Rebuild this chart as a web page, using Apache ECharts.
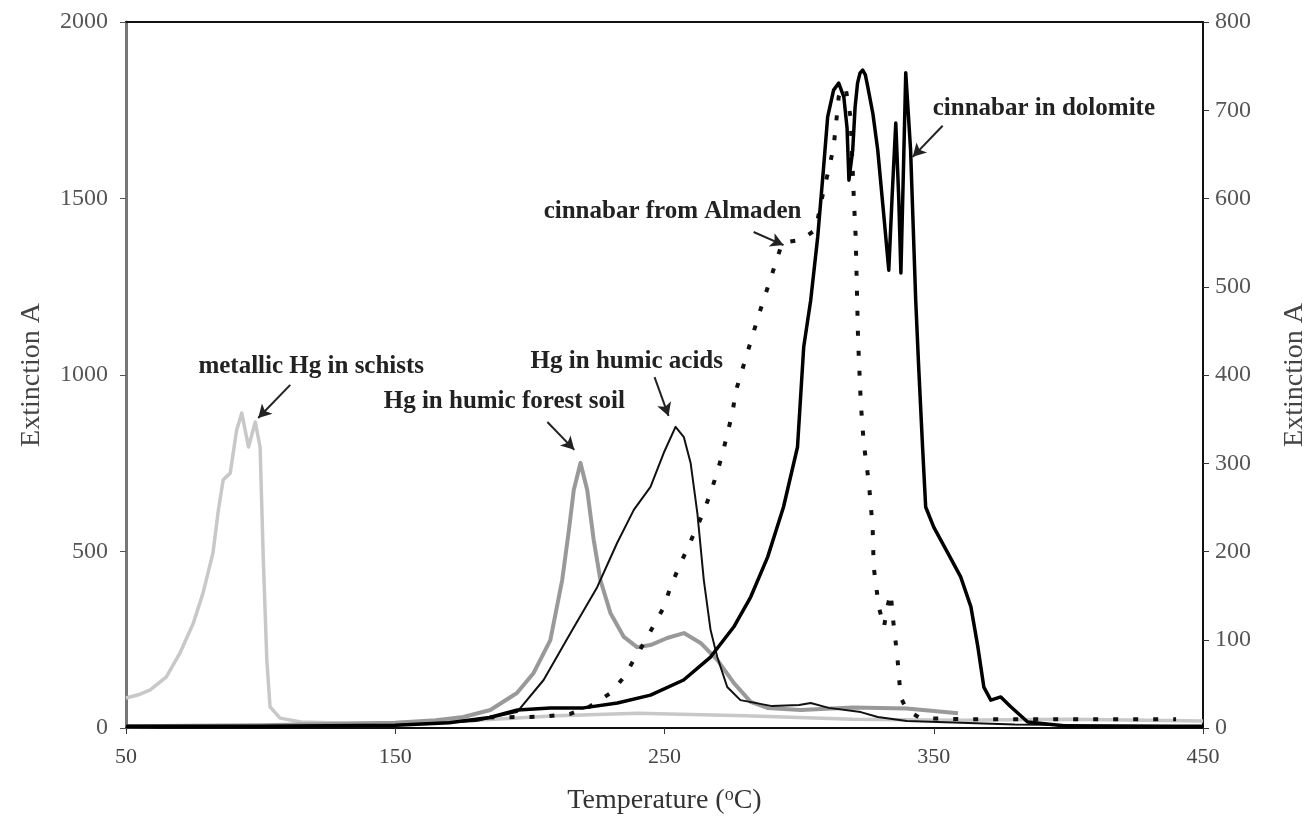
<!DOCTYPE html>
<html>
<head>
<meta charset="utf-8">
<script src="https://cdn.jsdelivr.net/npm/echarts@6/dist/echarts.min.js"></script>
<style>
html,body{margin:0;padding:0;background:#fff;}
#chart{width:1311px;height:816px;}
</style>
</head>
<body>
<div id="chart"></div>
<script>
// ---- data (temperature in °C, extinction A on left-axis scale) ----
var metallicT = [50, 55, 59, 65, 70, 75, 78.6, 82.3, 84.3, 86.1, 88.7, 91.1, 93.0, 95.5, 98.0, 99.8, 101.0, 102.3, 103.5, 107.2, 115, 130, 150, 180, 210, 240, 280, 320, 360, 400, 450];
var metallicV = [85, 95, 108, 145, 212, 297, 382, 496, 617, 703, 722, 844, 892, 796, 867, 796, 476, 193, 60, 28, 17, 14, 15, 22, 35, 42, 35, 25, 22, 25, 20];

var forestT = [50, 100, 150, 165, 175.3, 185.3, 195.2, 201.4, 207.6, 212, 214.5, 216.3, 218.8, 221.3, 223.7, 226.2, 229.9, 234.9, 239.8, 244.8, 251, 257.2, 263.4, 269.6, 275.8, 282, 288.2, 300.6, 320, 340, 359];
var forestV = [5, 8, 15, 22, 31, 51, 99, 156, 249, 419, 561, 674, 751, 674, 533, 419, 326, 258, 229, 235, 255, 269, 241, 193, 127, 74, 57, 51, 58, 55, 42];

var acidsT = [50, 100, 150, 180, 195.2, 205.1, 215.1, 225, 232.4, 238.6, 244.8, 249.7, 254.1, 257.2, 259.7, 262.2, 264.6, 267.1, 269.6, 273.3, 278.2, 290, 300, 304.3, 311, 322.9, 329.2, 340, 380, 450];
var acidsV = [5, 5, 8, 20, 45, 136, 269, 399, 524, 618, 683, 779, 853, 824, 751, 609, 419, 278, 201, 116, 79, 62, 65, 71, 57, 45, 31, 20, 10, 5];

var almadenT = [185, 195, 205, 215, 222, 230, 234.9, 238.6, 242.4, 246.1, 249.8, 252.2, 255.2, 258.6, 264.5, 267.1, 269.6, 271.9, 275.3, 276.4, 285, 293.7, 300.6, 306.1, 309.1, 311, 312.8, 313.6, 314.7, 316.2, 317.4, 319.1, 320.3, 321.0, 321.9, 322.9, 324, 325.9, 327.3, 327.7, 329.6, 331.5, 333, 334, 335, 336.5, 337.7, 340, 345, 360, 400, 440];
var almadenV = [30, 31, 32, 40, 60, 99, 144, 193, 241, 292, 343, 399, 453, 510, 612, 666, 725, 788, 895, 952, 1170, 1374, 1383, 1411, 1524, 1581, 1646, 1703, 1788, 1816, 1807, 1731, 1504, 1391, 1099, 921, 807, 694, 569, 456, 343, 286, 350, 382, 300, 200, 88, 50, 28, 25, 25, 25];

var dolomiteT = [50, 100, 150, 170, 185, 195.4, 207.6, 219.9, 232.5, 244.8, 257.1, 267.1, 275.7, 282, 288.3, 294.2, 299.4, 301.7, 304.3, 306.9, 309, 310.6, 312.8, 314.7, 316.6, 317.8, 318.5, 319.9, 320.8, 321.7, 322.6, 323.6, 324.6, 325.5, 327.4, 329.2, 331.5, 333.3, 334.5, 335.9, 337, 337.8, 338.8, 339.6, 341.4, 343.3, 344.4, 345.9, 347, 350, 355.2, 360, 363.8, 366.4, 368.6, 371.2, 374.9, 378.6, 384.9, 400, 450];
var dolomiteV = [5, 5, 8, 15, 30, 51, 57, 57, 71, 93, 136, 201, 286, 371, 484, 626, 796, 1079, 1212, 1391, 1580, 1731, 1807, 1827, 1788, 1700, 1552, 1637, 1760, 1827, 1855, 1864, 1850, 1816, 1740, 1637, 1448, 1297, 1500, 1714, 1500, 1289, 1600, 1856, 1637, 1212, 1023, 788, 626, 569, 496, 428, 343, 229, 116, 79, 88, 60, 17, 5, 5];

var xTicks = [50, 150, 250, 350, 450];

// annotations: label text, label position [T, A], arrow from [T, A] to [T, A]
var annoText = ['metallic Hg in schists', 'Hg in humic acids', 'Hg in humic forest soil', 'cinnabar from Almaden', 'cinnabar in dolomite'];
var annoPos = [[118.8, 1023], [236.0, 1037], [190.5, 924], [253.0, 1462], [390.9, 1756]];
var arrowFrom = [[111.0, 972], [246.3, 994], [206.5, 867], [283.1, 1405], [353.3, 1706]];
var arrowTo = [[99.1, 878], [251.5, 884], [216.5, 788], [294.2, 1368], [342.2, 1618]];

function zip(a, b) { return a.map(function (t, i) { return [t, b[i]]; }); }

var FONT = '"Liberation Serif", "DejaVu Serif", serif';
var chart = echarts.init(document.getElementById('chart'));

function lineSeries(name, data, color, width, dash, z) {
  return {
    name: name, type: 'line', data: data, showSymbol: false, symbol: 'none',
    smooth: false, z: z, animation: false,
    lineStyle: { color: color, width: width, type: dash || 'solid', cap: 'butt', join: 'round' }
  };
}

var arrowLines = arrowFrom.map(function (f, i) {
  return [{ coord: f }, { coord: arrowTo[i] }];
});

var plain = function (v) { return String(v); };

var option = {
  animation: false,
  backgroundColor: '#fff',
  grid: { left: 126, right: 108, top: 22, bottom: 88, containLabel: false, outerBoundsMode: 'none' },
  xAxis: [{
    type: 'value', min: 50, max: 450, interval: 100,
    axisLine: { show: true, onZero: false, lineStyle: { color: '#111', width: 2 } },
    axisTick: { show: true, length: 6, customValues: xTicks, lineStyle: { color: '#333', width: 1 } },
    axisLabel: { customValues: xTicks, formatter: plain, fontFamily: FONT, fontSize: 22, color: '#444', margin: 18 },
    splitLine: { show: false },
    name: '{a|Temperature (}{s|o}{a|C)}', nameLocation: 'middle', nameGap: 58,
    nameTextStyle: {
      rich: {
        a: { fontFamily: FONT, fontSize: 28, color: '#333' },
        s: { fontFamily: FONT, fontSize: 18, color: '#333', verticalAlign: 'top', padding: [0, 0, 12, 0] }
      }
    }
  }, {
    type: 'value', min: 50, max: 450, position: 'top',
    axisLine: { show: true, onZero: false, lineStyle: { color: '#111', width: 2 } },
    axisTick: { show: false }, axisLabel: { show: false }, splitLine: { show: false }
  }],
  yAxis: [{
    type: 'value', min: 0, max: 2000, interval: 500, position: 'left',
    axisLine: { show: true, onZero: false, lineStyle: { color: '#777', width: 3 } },
    axisTick: { show: true, length: 6, lineStyle: { color: '#555', width: 1 } },
    axisLabel: { formatter: plain, fontFamily: FONT, fontSize: 24, color: '#555', margin: 18 },
    splitLine: { show: false },
    name: 'Extinction A', nameLocation: 'middle', nameGap: 80, nameRotate: 90,
    nameTextStyle: { fontFamily: FONT, fontSize: 28, color: '#444' }
  }, {
    type: 'value', min: 0, max: 800, interval: 100, position: 'right',
    axisLine: { show: true, onZero: false, lineStyle: { color: '#111', width: 2 } },
    axisTick: { show: true, length: 6, lineStyle: { color: '#333', width: 1 } },
    axisLabel: { formatter: plain, fontFamily: FONT, fontSize: 24, color: '#555', margin: 12 },
    splitLine: { show: false },
    name: 'Extinction A', nameLocation: 'middle', nameGap: 78, nameRotate: 90,
    nameTextStyle: { fontFamily: FONT, fontSize: 28, color: '#444' }
  }],
  series: [
    lineSeries('metallic Hg in schists', zip(metallicT, metallicV), '#c8c8c8', 3.5, 'solid', 2),
    lineSeries('Hg in humic forest soil', zip(forestT, forestV), '#999999', 4, 'solid', 3),
    lineSeries('Hg in humic acids', zip(acidsT, acidsV), '#111111', 2, 'solid', 4),
    lineSeries('cinnabar from Almaden', zip(almadenT, almadenV), '#111111', 4, [5, 15], 5),
    lineSeries('cinnabar in dolomite', zip(dolomiteT, dolomiteV), '#000000', 3.5, 'solid', 6),
    {
      name: 'arrows', type: 'line', data: [], z: 7, animation: false,
      markLine: {
        silent: true, animation: false,
        symbol: ['none', 'arrow'], symbolSize: [11, 13],
        label: { show: false },
        lineStyle: { color: '#222', width: 2, type: 'solid' },
        data: arrowLines
      }
    }
  ]
};
chart.setOption(option);

var texts = annoText.map(function (t, i) {
  var p = chart.convertToPixel({ xAxisIndex: 0, yAxisIndex: 0 }, annoPos[i]);
  return {
    type: 'text', x: p[0], y: p[1], z: 10,
    style: { text: t, fontFamily: FONT, fontSize: 25, fontWeight: 'bold', fill: '#222', align: 'center', verticalAlign: 'middle' }
  };
});
chart.setOption({ graphic: texts });
</script>
</body>
</html>
